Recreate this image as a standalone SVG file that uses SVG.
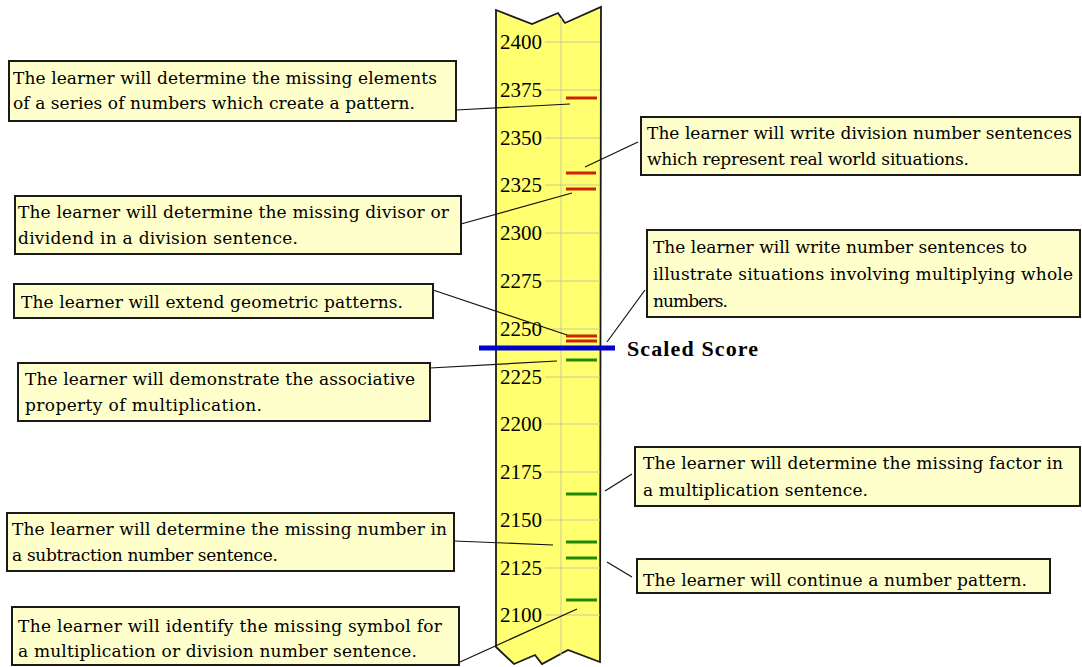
<svg xmlns="http://www.w3.org/2000/svg" width="1082" height="667" viewBox="0 0 1082 667">
<style>
.box{fill:#ffffcc;stroke:#1a1a1a;stroke-width:2}
.t{font-family:"DejaVu Serif","Liberation Serif",serif;font-size:17px;fill:#000}
.num{font-family:"Liberation Serif",serif;font-size:21px;fill:#000}
.grid{stroke:#c8c8a0;stroke-width:1}
.red{stroke:#cc2200;stroke-width:3}
.green{stroke:#228800;stroke-width:3}
.conn{stroke:#111;stroke-width:1.2;fill:none}
</style>
<rect width="1082" height="667" fill="#ffffff"/>
<g id="scale">
<path d="M496,10 L532,24 L558,13 L565,23 L601,7 L600,662 L568,650 L542,664 L535,655 L514,664 L496,647 Z" fill="#ffff70" stroke="#1a1a1a" stroke-width="1.8"/>
<line class="grid" x1="561" y1="18" x2="561" y2="656"/>
<g class="grid">
<line x1="545" y1="42" x2="600" y2="42"/><line x1="545" y1="90" x2="600" y2="90"/><line x1="545" y1="138" x2="600" y2="138"/><line x1="545" y1="185" x2="600" y2="185"/><line x1="545" y1="233" x2="600" y2="233"/><line x1="545" y1="281" x2="600" y2="281"/><line x1="545" y1="329" x2="600" y2="329"/><line x1="545" y1="377" x2="600" y2="377"/><line x1="545" y1="424" x2="600" y2="424"/><line x1="545" y1="472" x2="600" y2="472"/><line x1="545" y1="520" x2="600" y2="520"/><line x1="545" y1="568" x2="600" y2="568"/><line x1="545" y1="615" x2="600" y2="615"/>
</g>
<g class="num">
<text x="500" y="49" textLength="42" lengthAdjust="spacingAndGlyphs">2400</text>
<text x="500" y="97" textLength="42" lengthAdjust="spacingAndGlyphs">2375</text>
<text x="500" y="145" textLength="42" lengthAdjust="spacingAndGlyphs">2350</text>
<text x="500" y="192" textLength="42" lengthAdjust="spacingAndGlyphs">2325</text>
<text x="500" y="240" textLength="42" lengthAdjust="spacingAndGlyphs">2300</text>
<text x="500" y="288" textLength="42" lengthAdjust="spacingAndGlyphs">2275</text>
<text x="500" y="336" textLength="42" lengthAdjust="spacingAndGlyphs">2250</text>
<text x="500" y="384" textLength="42" lengthAdjust="spacingAndGlyphs">2225</text>
<text x="500" y="431" textLength="42" lengthAdjust="spacingAndGlyphs">2200</text>
<text x="500" y="479" textLength="42" lengthAdjust="spacingAndGlyphs">2175</text>
<text x="500" y="527" textLength="42" lengthAdjust="spacingAndGlyphs">2150</text>
<text x="500" y="575" textLength="42" lengthAdjust="spacingAndGlyphs">2125</text>
<text x="500" y="622" textLength="42" lengthAdjust="spacingAndGlyphs">2100</text>
</g>
<line class="red" x1="566" y1="98" x2="597" y2="98"/>
<line class="red" x1="566" y1="173" x2="596" y2="173"/>
<line class="red" x1="566" y1="189" x2="596" y2="189"/>
<line class="red" x1="566" y1="336" x2="597" y2="336"/>
<line class="red" x1="566" y1="341" x2="597" y2="341"/>
<line class="green" x1="566" y1="360" x2="597" y2="360"/>
<line class="green" x1="566" y1="494" x2="597" y2="494"/>
<line class="green" x1="566" y1="542" x2="597" y2="542"/>
<line class="green" x1="566" y1="558" x2="597" y2="558"/>
<line class="green" x1="566" y1="600" x2="597" y2="600"/>
<line x1="479" y1="348" x2="615" y2="348" stroke="#0000cc" stroke-width="5"/>
<text x="627" y="356" font-family="Liberation Serif, serif" font-weight="bold" font-size="22" fill="#000" textLength="131">Scaled Score</text>
</g>
<g id="connectors">
<line class="conn" x1="456" y1="110" x2="570" y2="104"/>
<line class="conn" x1="638" y1="142" x2="585" y2="167"/>
<line class="conn" x1="461" y1="224" x2="572" y2="193"/>
<line class="conn" x1="645" y1="290" x2="607" y2="342"/>
<line class="conn" x1="433" y1="290" x2="567" y2="335"/>
<line class="conn" x1="430" y1="368" x2="557" y2="361"/>
<line class="conn" x1="632" y1="474" x2="605" y2="491"/>
<line class="conn" x1="632" y1="577" x2="607" y2="562"/>
<line class="conn" x1="454" y1="541" x2="553" y2="545"/>
<line class="conn" x1="460" y1="662" x2="577" y2="609"/>
</g>
<g id="n1"><rect class="box" x="9" y="61" width="447" height="60"/>
<text class="t" x="13" y="84" textLength="424">The learner will determine the missing elements</text>
<text class="t" x="13" y="109" textLength="402">of a series of numbers which create a pattern.</text></g>
<g id="n2"><rect class="box" x="641" y="117" width="439" height="58"/>
<text class="t" x="647" y="139" textLength="425">The learner will write division number sentences</text>
<text class="t" x="647" y="165" textLength="322">which represent real world situations.</text></g>
<g id="n3"><rect class="box" x="15" y="196" width="446" height="58"/>
<text class="t" x="18" y="218" textLength="431">The learner will determine the missing divisor or</text>
<text class="t" x="18" y="244" textLength="280">dividend in a division sentence.</text></g>
<g id="n4"><rect class="box" x="647" y="230" width="433" height="87"/>
<text class="t" x="653" y="253" textLength="374">The learner will write number sentences to</text>
<text class="t" x="653" y="280" textLength="420">illustrate situations involving multiplying whole</text>
<text class="t" x="653" y="307" textLength="75">numbers.</text></g>
<g id="n5"><rect class="box" x="14" y="284" width="419" height="34"/>
<text class="t" x="21" y="308" textLength="382">The learner will extend geometric patterns.</text></g>
<g id="n6"><rect class="box" x="18" y="363" width="412" height="58"/>
<text class="t" x="25" y="385" textLength="390">The learner will demonstrate the associative</text>
<text class="t" x="25" y="411" textLength="237">property of multiplication.</text></g>
<g id="n7"><rect class="box" x="635" y="447" width="445" height="59"/>
<text class="t" x="643" y="469" textLength="420">The learner will determine the missing factor in</text>
<text class="t" x="643" y="496" textLength="225">a multiplication sentence.</text></g>
<g id="n8"><rect class="box" x="7" y="513" width="447" height="58"/>
<text class="t" x="12" y="535" textLength="435">The learner will determine the missing number in</text>
<text class="t" x="12" y="561" textLength="266">a subtraction number sentence.</text></g>
<g id="n9"><rect class="box" x="637" y="559" width="413" height="34"/>
<text class="t" x="643" y="586" textLength="384">The learner will continue a number pattern.</text></g>
<g id="n10"><rect class="box" x="12" y="607" width="447" height="58"/>
<text class="t" x="18" y="632" textLength="424">The learner will identify the missing symbol for</text>
<text class="t" x="18" y="657" textLength="399">a multiplication or division number sentence.</text></g>
</svg>
